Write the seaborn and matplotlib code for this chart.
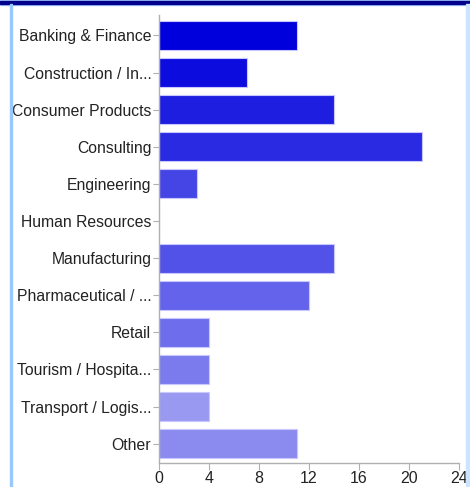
import matplotlib
matplotlib.use("Agg")
import matplotlib.pyplot as plt
import seaborn as sns
import pandas as pd
from matplotlib.patches import Rectangle

# --- Data ---
industries = [
    "Banking & Finance", "Construction / In...", "Consumer Products", "Consulting",
    "Engineering", "Human Resources", "Manufacturing", "Pharmaceutical / ...",
    "Retail", "Tourism / Hospita...", "Transport / Logis...", "Other",
]
counts = [11, 7, 14, 21, 3, 0, 14, 12, 4, 4, 4, 11]
bar_colors = [
    "#0000dd", "#0c0cdf", "#1e1ee0", "#2a2ae2", "#4545e6", "#4d4de7",
    "#5252e8", "#6363eb", "#6e6eed", "#7b7bee", "#9999f2", "#8b8bef",
]
xticks = [0, 4, 8, 12, 16, 20, 24]

df = pd.DataFrame({"Industry": industries, "Count": counts})

# --- Style ---
sns.set_style("white")
plt.rcParams["font.family"] = ["Liberation Sans", "DejaVu Sans"]

fig = plt.figure(figsize=(4.7, 4.87), dpi=100)
ax = fig.add_axes([159 / 470, 24 / 487, 300 / 470, 448 / 487])

sns.barplot(
    data=df, x="Count", y="Industry", hue="Industry", palette=bar_colors,
    saturation=1, legend=False, width=0.78, edgecolor="#c8c8ff", linewidth=0.8, ax=ax,
)

ax.set_xlim(0, 24)
ax.set_ylim(11.52, -0.55)
ax.set_xticks(xticks)
ax.set_xlabel("")
ax.set_ylabel("")

for side in ["top", "right"]:
    ax.spines[side].set_visible(False)
for side in ["left", "bottom"]:
    ax.spines[side].set_color("#b0b0b0")
    ax.spines[side].set_linewidth(1.0)

ax.tick_params(axis="y", length=4, width=0.8, color="#b0b0b0", pad=1.5,
               labelsize=11.3, labelcolor="#222222", left=True)
ax.tick_params(axis="x", length=5, width=0.8, color="#b0b0b0", pad=0.5,
               labelsize=11.5, labelcolor="#222222", bottom=True)

# --- Frame around the chart ---
W, H = 470, 487
fig.patches.append(Rectangle((0, 1 - 5 / H), 1, 5 / H, transform=fig.transFigure,
                             color="#a8d0ff", zorder=0))
fig.patches.append(Rectangle((0, 1 - 4 / H), 1, 3 / H, transform=fig.transFigure,
                             color="#00008b", zorder=1))
fig.patches.append(Rectangle((10 / W, 0), 1.5 / W, 1 - 4 / H, transform=fig.transFigure,
                             color="#99c8ff", zorder=1))
fig.patches.append(Rectangle((466 / W, 0), 4 / W, 1 - 4 / H, transform=fig.transFigure,
                             color="#cce4ff", zorder=1))

fig.savefig("out.png", dpi=100)
